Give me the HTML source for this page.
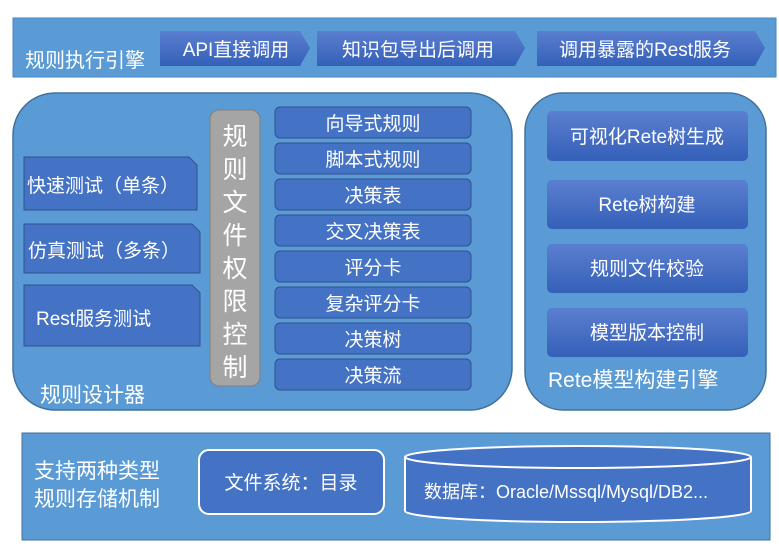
<!DOCTYPE html>
<html><head><meta charset="utf-8"><style>
body{margin:0;background:#fff;}
svg text{font-family:"Liberation Sans","Noto Sans CJK SC",sans-serif;fill:#fff;}
</style></head><body>
<svg width="779" height="552" viewBox="0 0 779 552" xmlns="http://www.w3.org/2000/svg">
<defs>
<linearGradient id="g" x1="0" y1="0" x2="0" y2="1"><stop offset="0" stop-color="#5b7fd0"/><stop offset="1" stop-color="#3460b8"/></linearGradient>
</defs>
<!-- top band -->
<rect x="13" y="18" width="763" height="59" fill="#5b9bd5" stroke="#4a85c0"/>
<text x="25" y="67" font-size="20">规则执行引擎</text>
<polygon points="160,31 300,31 310,48 300,66 160,66" fill="url(#g)"/>
<text x="236" y="56" font-size="19" text-anchor="middle">API直接调用</text>
<polygon points="317,31 515,31 525,48 515,66 317,66" fill="url(#g)"/>
<text x="418" y="56" font-size="19" text-anchor="middle">知识包导出后调用</text>
<polygon points="537,31 755,31 765,48 755,66 537,66" fill="url(#g)"/>
<text x="645" y="56" font-size="19" text-anchor="middle">调用暴露的Rest服务</text>
<!-- designer -->
<rect x="13" y="93" width="499" height="317" rx="42" fill="#5b9bd5" stroke="#41719c" stroke-width="1.5"/>
<polygon points="24,157 189,157 197,165 197,210 24,210" fill="#4472c4" stroke="#2f528f"/>
<text x="27" y="192" font-size="19">快速测试（单条）</text>
<polygon points="24,224 192,224 200,232 200,273 24,273" fill="#4472c4" stroke="#2f528f"/>
<text x="28" y="257" font-size="19">仿真测试（多条）</text>
<polygon points="24,285 192,285 200,293 200,346 24,346" fill="#4472c4" stroke="#2f528f"/>
<text x="36" y="325" font-size="19">Rest服务测试</text>
<rect x="210" y="110" width="50" height="276" rx="9" fill="#a5a5a5" stroke="#7f7f7f"/>
<g font-size="25" text-anchor="middle">
<text x="235" y="145">规</text><text x="235" y="178">则</text><text x="235" y="211">文</text><text x="235" y="244">件</text><text x="235" y="277">权</text><text x="235" y="310">限</text><text x="235" y="343">控</text><text x="235" y="376">制</text>
</g>
<g fill="#4472c4" stroke="#2f528f">
<rect x="275" y="107" width="196" height="31" rx="5"/>
<rect x="275" y="143" width="196" height="31" rx="5"/>
<rect x="275" y="179" width="196" height="31" rx="5"/>
<rect x="275" y="215" width="196" height="31" rx="5"/>
<rect x="275" y="251" width="196" height="31" rx="5"/>
<rect x="275" y="287" width="196" height="31" rx="5"/>
<rect x="275" y="323" width="196" height="31" rx="5"/>
<rect x="275" y="359" width="196" height="31" rx="5"/>
</g>
<g font-size="19" text-anchor="middle">
<text x="373" y="130">向导式规则</text>
<text x="373" y="166">脚本式规则</text>
<text x="373" y="202">决策表</text>
<text x="373" y="238">交叉决策表</text>
<text x="373" y="274">评分卡</text>
<text x="373" y="310">复杂评分卡</text>
<text x="373" y="346">决策树</text>
<text x="373" y="382">决策流</text>
</g>
<text x="40" y="402" font-size="21">规则设计器</text>
<!-- rete -->
<rect x="525" y="93" width="241" height="317" rx="38" fill="#5b9bd5" stroke="#41719c" stroke-width="1.5"/>
<g fill="url(#g)">
<rect x="547" y="111" width="201" height="50" rx="5"/>
<rect x="547" y="180" width="201" height="49" rx="5"/>
<rect x="547" y="244" width="201" height="49" rx="5"/>
<rect x="547" y="308" width="201" height="49" rx="5"/>
</g>
<g font-size="19" text-anchor="middle">
<text x="647" y="143">可视化Rete树生成</text>
<text x="647" y="211">Rete树构建</text>
<text x="647" y="275">规则文件校验</text>
<text x="647" y="339">模型版本控制</text>
</g>
<text x="548" y="387" font-size="21">Rete模型构建引擎</text>
<!-- storage -->
<rect x="22" y="433" width="748" height="107" fill="#5b9bd5" stroke="#41719c"/>
<text x="34" y="478" font-size="21">支持两种类型</text>
<text x="34" y="506" font-size="21">规则存储机制</text>
<rect x="199" y="450" width="185" height="64" rx="10" fill="#4472c4" stroke="#fff" stroke-width="2"/>
<text x="291" y="489" font-size="19" text-anchor="middle">文件系统：目录</text>
<path d="M405,457 L405,511 A173,11 0 0 0 751,511 L751,457" fill="#4472c4" stroke="#fff" stroke-width="2"/>
<ellipse cx="578" cy="457" rx="173" ry="11" fill="#4472c4" stroke="#fff" stroke-width="2"/>
<text x="424" y="498" font-size="18">数据库：Oracle/Mssql/Mysql/DB2...</text>
</svg>
</body></html>
